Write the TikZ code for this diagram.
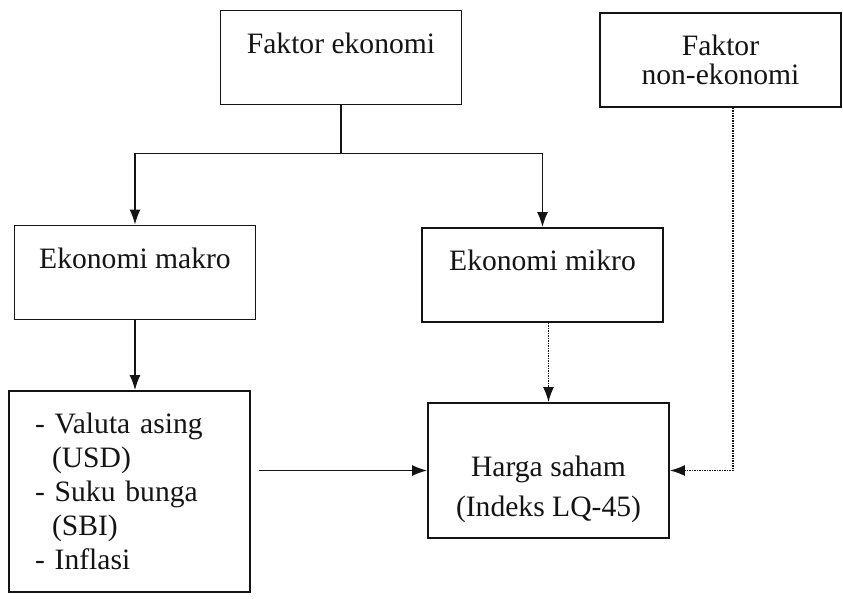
\documentclass[tikz,border=0pt]{standalone}
\usepackage{fontspec}
\setmainfont{Liberation Serif}
\usepackage{xcolor}
\usetikzlibrary{arrows.meta,positioning,calc}
\definecolor{ink}{HTML}{141414}

\begin{document}
\begin{tikzpicture}[x=1pt,y=-1pt,
  box/.style={draw=ink, line width=1.8pt, inner sep=0pt, minimum width=241pt,
              minimum height=94pt, align=center, text=ink,
              font=\fontsize{29.6}{34}\selectfont},
  link/.style={draw=ink, line width=1.6pt, -{Latex[length=15pt,width=11pt]}},
  dotlink/.style={link, line width=1.5pt, densely dotted}]
 \useasboundingbox (0,0) rectangle (843,598);

 % faktor
 \node[box, text depth=28pt] (fe)  at (341,57.5) {Faktor ekonomi};
 \node[box]                  (fne) at (720.5,60) {Faktor\\[-5pt]non-ekonomi};

 % ekonomi makro / mikro
 \node[box, text depth=28pt] (makro) at (135,272.5) {Ekonomi makro};
 \node[box, text depth=30pt] (mikro) at (542.5,275) {Ekonomi mikro};

 % variabel makro dan harga saham
 \node[box, minimum height=201pt, align=left, text width=189pt, inner xsep=26pt]
   (list) at (129.5,491.5)
   {- Valuta asing\\\hspace*{17pt}(USD)\\- Suku bunga\\\hspace*{17pt}(SBI)\\- Inflasi};
 \node[box, minimum height=135pt, text height=99pt] (harga) at (548.5,470.5)
   {Harga saham\\[6pt](Indeks LQ-45)};

 \coordinate (split) at ($(fe.south)+(0,48)$);
 \draw[draw=ink, line width=1.6pt] (fe.south) -- (split);
 \draw[link] (split) -| (makro.north);
 \draw[link] (split) -| (mikro.north);
 \draw[link] (makro.south) -- (makro.south |- list.north);
 \draw[link, shorten <=8pt] (list.east |- harga.west) -- (harga.west);
 \draw[dotlink] (harga.north |- mikro.south) -- (harga.north);
 \draw[dotlink] ([xshift=12.5pt]fne.south) |- (harga.east);
\end{tikzpicture}
\end{document}
